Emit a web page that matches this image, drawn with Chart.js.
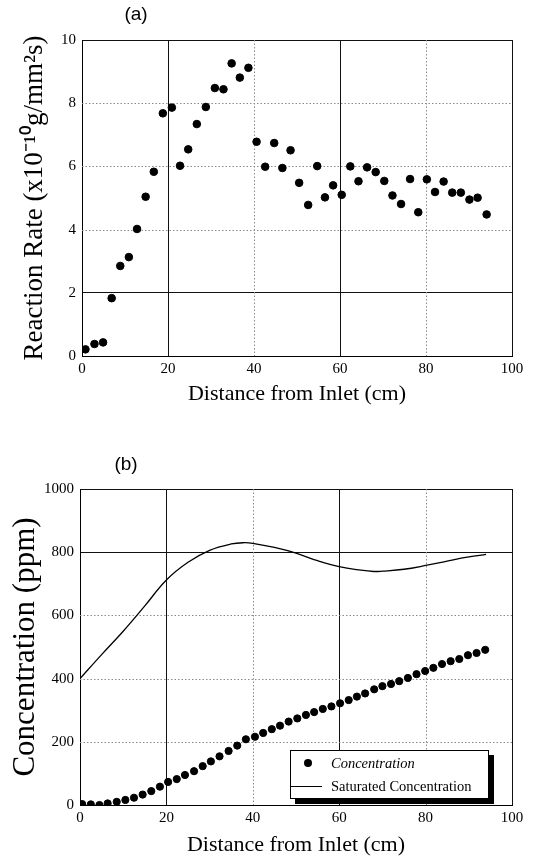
<!DOCTYPE html>
<html>
<head>
<meta charset="utf-8">
<script src="https://cdn.jsdelivr.net/npm/chart.js@4"></script>
<style>
  body { margin: 0; background: #fff; }
  #wrap { position: relative; width: 549px; height: 859px; }
  .panel { position: absolute; left: 0; }
  #legend {
    position: absolute; left: 290px; top: 750px; width: 197px; height: 47px;
    border: 1px solid #000; background: #fff; box-shadow: 5px 5px 0 #000;
    font-family: "Liberation Serif", serif; font-size: 14.5px; color: #000;
  }
  #legend .dot { position: absolute; left: 13px; top: 8px; width: 8px; height: 8px; border-radius: 50%; background: #000; }
  #legend .ln { position: absolute; left: 0; top: 35px; width: 31px; height: 1px; background: #000; }
  #legend .lbl { position: absolute; left: 40px; line-height: 16px; white-space: nowrap; }
</style>
</head>
<body>
<div id="wrap">
  <div class="panel" style="top:0"><canvas id="rateChart" width="549" height="430"></canvas></div>
  <div class="panel" style="top:430px"><canvas id="concChart" width="549" height="429"></canvas></div>
  <div id="legend">
    <span class="dot"></span><span class="lbl" id="lgConc" style="top:4px;font-style:italic"></span>
    <span class="ln"></span><span class="lbl" id="lgSat" style="top:27px"></span>
  </div>
</div>
<script>
// (a) reaction rate along the tube
const rateX = [0.8, 2.9, 4.9, 6.9, 8.9, 10.9, 12.8, 14.8, 16.7, 18.8, 20.9, 22.8, 24.7, 26.7, 28.8, 30.9,
  32.9, 34.8, 36.7, 38.7, 40.6, 42.6, 44.7, 46.6, 48.5, 50.5, 52.6, 54.7, 56.5, 58.4, 60.4, 62.4,
  64.3, 66.3, 68.3, 70.3, 72.2, 74.2, 76.3, 78.2, 80.2, 82.1, 84.1, 86.1, 88.1, 90.1, 92.0, 94.1];
const rateY = [0.21, 0.38, 0.43, 1.83, 2.85, 3.13, 4.02, 5.04, 5.83, 7.68, 7.86, 6.02, 6.54, 7.34, 7.88, 8.48,
  8.44, 9.26, 8.81, 9.12, 6.78, 5.99, 6.74, 5.95, 6.51, 5.48, 4.78, 6.01, 5.02, 5.40, 5.10, 6.00,
  5.53, 5.97, 5.82, 5.54, 5.08, 4.81, 5.60, 4.55, 5.59, 5.19, 5.52, 5.17, 5.17, 4.95, 5.01, 4.48];
const rateTicks = [0, 2, 4, 6, 8, 10];

// (b) concentration along the tube
const concX = [0.5, 2.5, 4.5, 6.4, 8.5, 10.5, 12.5, 14.5, 16.5, 18.5, 20.4, 22.4, 24.3, 26.4, 28.4, 30.3,
  32.3, 34.4, 36.4, 38.4, 40.5, 42.4, 44.4, 46.3, 48.3, 50.3, 52.3, 54.2, 56.2, 58.2, 60.2, 62.2,
  64.1, 66.0, 68.1, 70.0, 72.0, 73.9, 75.9, 77.9, 79.9, 81.8, 83.8, 85.8, 87.8, 89.8, 91.8, 93.8];
const concY = [3, 2, 0, 5, 10, 16, 23, 33, 44, 58, 73, 82, 95, 107, 123, 138,
  154, 171, 188, 208, 216, 228, 240, 251, 264, 274, 285, 294, 304, 312, 322, 332,
  343, 353, 366, 376, 383, 392, 402, 414, 424, 434, 446, 455, 462, 474, 481, 491];
const satX = [0, 5, 10, 15, 20, 25, 30, 35, 38, 40, 45, 50, 55, 60, 65, 68, 70, 75, 80, 85, 90, 94];
const satY = [400, 476, 550, 630, 712, 768, 806, 826, 830, 828, 815, 797, 773, 754, 743, 739, 740, 746, 758, 772, 785, 793];
const concTicks = [0, 200, 400, 600, 800, 1000];
const distTicks = [0, 20, 40, 60, 80, 100];

const concLabel = 'Concentration';
const satLabel = 'Saturated Concentration';

const serif = 'Liberation Serif';

const toPoints = (xs, ys) => xs.map((x, i) => ({ x: x, y: ys[i] }));

// solid grid lines come from the library, the faint dotted ones are drawn by dottedGrid
function gridColor(solid) {
  return ctx => solid.includes(ctx.tick.value) ? '#111' : 'rgba(0,0,0,0)';
}

const dottedGrid = {
  id: 'dottedGrid',
  beforeDatasetsDraw(chart, args, opts) {
    const { ctx, chartArea: a, scales } = chart;
    ctx.save();
    ctx.strokeStyle = '#8a8a8a';
    ctx.lineWidth = 1;
    ctx.setLineDash([1.5, 2]);
    scales.x.ticks.forEach(t => {
      if (opts.solidX.includes(t.value)) return;
      const p = Math.round(scales.x.getPixelForValue(t.value)) + 0.5;
      ctx.beginPath(); ctx.moveTo(p, a.top); ctx.lineTo(p, a.bottom); ctx.stroke();
    });
    scales.y.ticks.forEach(t => {
      if (opts.solidY.includes(t.value)) return;
      const p = Math.round(scales.y.getPixelForValue(t.value)) + 0.5;
      ctx.beginPath(); ctx.moveTo(a.left, p); ctx.lineTo(a.right, p); ctx.stroke();
    });
    ctx.restore();
  }
};

const panelLabel = {
  id: 'panelLabel',
  afterDraw(chart, args, opts) {
    const ctx = chart.ctx;
    ctx.save();
    ctx.font = '19px "Liberation Sans"';
    ctx.fillStyle = '#000';
    ctx.textAlign = 'center';
    ctx.textBaseline = 'middle';
    ctx.fillText(opts.text, opts.x, opts.y);
    ctx.restore();
  }
};

const solidX = [0, 20, 60, 100];

function xAxis(height) {
  return {
    type: 'linear', min: 0, max: 100,
    afterBuildTicks: s => { s.ticks = distTicks.map(v => ({ value: v })); },
    ticks: { padding: 4, color: '#000', font: { family: serif, size: 15 }, callback: v => String(v) },
    grid: { color: gridColor(solidX), drawTicks: false },
    border: { color: '#000' },
    title: { display: true, text: 'Distance from Inlet (cm)', color: '#000',
      font: { family: serif, size: 22 }, padding: { top: 0, bottom: 0 } },
    afterFit: s => { s.height = height; }
  };
}

function yAxis(min, max, ticks, solid, title, size, width, titlePad) {
  return {
    type: 'linear', min: min, max: max,
    afterBuildTicks: s => { s.ticks = ticks.map(v => ({ value: v })); },
    ticks: { padding: 6, color: '#000', font: { family: serif, size: 15 }, callback: v => String(v) },
    grid: { color: gridColor(solid), drawTicks: false },
    border: { color: '#000' },
    title: { display: true, text: title, color: '#000',
      font: { family: serif, size: size }, padding: { top: titlePad, bottom: 0 } },
    afterFit: s => { s.width = width; }
  };
}

new Chart(document.getElementById('rateChart'), {
  type: 'scatter',
  data: {
    datasets: [{
      label: 'Reaction Rate',
      data: toPoints(rateX, rateY),
      backgroundColor: '#000',
      borderColor: '#000',
      pointRadius: 3.8
    }]
  },
  options: {
    responsive: false,
    animation: false,
    layout: { padding: { top: 40, right: 37, bottom: 23, left: 0 } },
    scales: {
      x: xAxis(51),
      y: yAxis(0, 10, rateTicks, [0, 2, 10], 'Reaction Rate (x10\u207B\u00B9\u2070g/mm\u00B2s)', 27, 82, 19)
    },
    plugins: {
      legend: { display: false },
      tooltip: { enabled: false },
      dottedGrid: { solidX: solidX, solidY: [0, 2, 10] },
      panelLabel: { text: '(a)', x: 136, y: 15 }
    }
  },
  plugins: [dottedGrid, panelLabel]
});

new Chart(document.getElementById('concChart'), {
  type: 'scatter',
  data: {
    datasets: [{
      label: concLabel,
      data: toPoints(concX, concY),
      backgroundColor: '#000',
      borderColor: '#000',
      pointRadius: 3.6
    }, {
      label: satLabel,
      type: 'line',
      data: toPoints(satX, satY),
      borderColor: '#000',
      borderWidth: 1.3,
      pointRadius: 0,
      tension: 0.4,
      fill: false
    }]
  },
  options: {
    responsive: false,
    animation: false,
    layout: { padding: { top: 59, right: 37, bottom: 1, left: 0 } },
    scales: {
      x: xAxis(53),
      y: yAxis(0, 1000, concTicks, [0, 800, 1000], 'Concentration (ppm)', 31, 80, 7)
    },
    plugins: {
      legend: { display: false },
      tooltip: { enabled: false },
      dottedGrid: { solidX: solidX, solidY: [0, 800, 1000] },
      panelLabel: { text: '(b)', x: 126, y: 35 }
    }
  },
  plugins: [dottedGrid, panelLabel]
});

document.getElementById('lgConc').textContent = concLabel;
document.getElementById('lgSat').textContent = satLabel;
</script>
</body>
</html>
